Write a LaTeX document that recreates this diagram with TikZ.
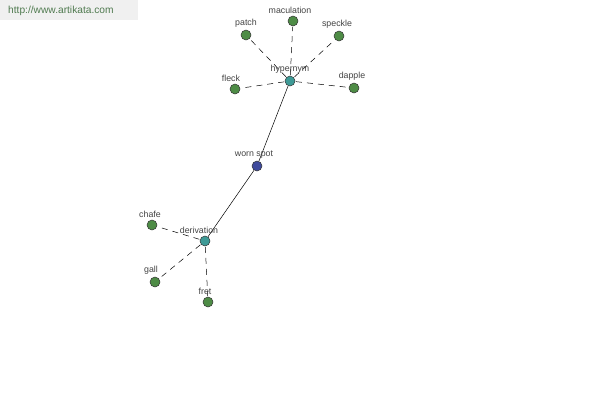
\documentclass[tikz,border=0pt]{standalone}
\usepackage{fontspec}
\setmainfont{Liberation Sans}
\usepackage{tikz}
\usetikzlibrary{positioning, backgrounds}
\definecolor{LeafGreen}{HTML}{4E8C46}
\definecolor{HubTeal}{HTML}{3E9A96}
\definecolor{RootBlue}{HTML}{3F4A9C}
\definecolor{LabelGray}{HTML}{444444}
\definecolor{MarkGray}{HTML}{F0F0F0}
\definecolor{MarkText}{HTML}{4F7A4F}
\tikzset{
  leafnode/.style={circle, draw=black!80, fill=LeafGreen, inner sep=0pt, minimum size=10pt, line width=0.5pt},
  hubnode/.style={leafnode, fill=HubTeal},
  rootnode/.style={leafnode, fill=RootBlue},
  wordlabel/.style={font=\fontsize{8.8}{10}\selectfont, text=LabelGray, inner sep=0pt},
  solidlink/.style={draw=black, line width=0.5pt},
  dashlink/.style={draw=black, line width=0.5pt, dash pattern=on 6pt off 5pt, shorten <=6pt, shorten >=6pt}
}

\begin{document}
\begin{tikzpicture}[x=1pt, y=-1pt]
  \useasboundingbox (0,0) rectangle (600,400);

  % nodes
  \node[hubnode] (hyp) at (290,81) {};
  \node[rootnode] (worn) at (257,166) {};
  \node[hubnode] (deriv) at (205,241) {};

  \node[leafnode] (patch) at (246,35) {};
  \node[leafnode] (macul) at (293,21) {};
  \node[leafnode] (speck) at (339,36) {};
  \node[leafnode] (fleck) at (235,89) {};
  \node[leafnode] (dapple) at (354,88) {};
  \node[leafnode] (chafe) at (152,225) {};
  \node[leafnode] (gall) at (155,282) {};
  \node[leafnode] (fret) at (208,302) {};

  % labels
  \node[wordlabel, above=7pt of hyp.center] {hypernym};
  \node[wordlabel, above=7pt of worn.center, xshift=-3pt] {worn spot};
  \node[wordlabel, above=7pt of deriv.center, xshift=-6pt] {derivation};
  \node[wordlabel, above=7pt of patch.center] {patch};
  \node[wordlabel, above=7pt of macul.center, xshift=-3pt] {maculation};
  \node[wordlabel, above=7pt of speck.center, xshift=-2pt] {speckle};
  \node[wordlabel, above=7pt of fleck.center, xshift=-4pt] {fleck};
  \node[wordlabel, above=7pt of dapple.center, xshift=-2pt] {dapple};
  \node[wordlabel, above=7pt of chafe.center, xshift=-2pt] {chafe};
  \node[wordlabel, above=7pt of gall.center, xshift=-4pt] {gall};
  \node[wordlabel, above=7pt of fret.center, xshift=-3pt] {fret};

  \begin{pgfonlayer}{background}
    \fill[white] (0,0) rectangle (600,400);
    % watermark
    \fill[MarkGray] (0,0) rectangle (138,20);
    \node[font=\fontsize{10.2}{11}\selectfont, text=MarkText, anchor=west, inner sep=0pt] (mark) at (8,11) {http://www.artikata.com};
    % links
    \draw[solidlink] (hyp) -- (worn);
    \draw[solidlink] (worn) -- (deriv);
    \foreach \leaf in {patch, macul, speck, fleck, dapple}
      \draw[dashlink] (hyp.center) -- (\leaf.center);
    \foreach \leaf in {chafe, gall, fret}
      \draw[dashlink] (deriv.center) -- (\leaf.center);
  \end{pgfonlayer}
\end{tikzpicture}
\end{document}
